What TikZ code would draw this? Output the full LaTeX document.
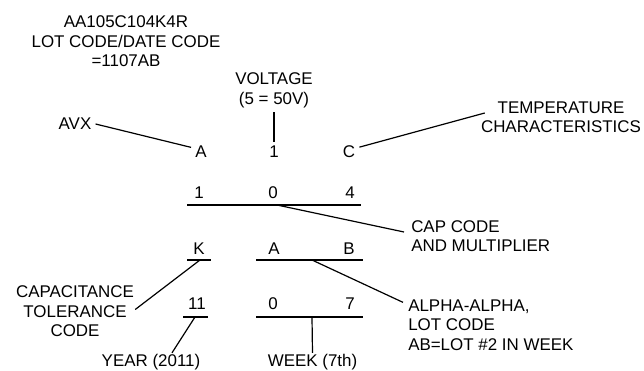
\documentclass[tikz,border=0pt]{standalone}
\usepackage{fontspec}
\setmainfont{Liberation Sans}
\usetikzlibrary{calc}
\tikzset{
  lbl/.style={font=\fontsize{12.7}{14.6}\selectfont, align=center, inner sep=3pt},
  lblleft/.style={lbl, align=left, anchor=west},
  digit/.style={font=\fontsize{12.7}{14.6}\selectfont, inner sep=3pt},
  lead/.style={line width=0.9pt},
  uline/.style={line width=0.9pt},
}
\begin{document}
\begin{tikzpicture}[x=0.75pt, y=-0.75pt]
  \useasboundingbox (0,0) rectangle (644,371);
  \node[lbl] (hdr)   at (126,41.5) {AA105C104K4R\\LOT CODE/DATE CODE\\=1107AB};
  \node[lbl] (volt)  at (274,90.5) {VOLTAGE\\(5 = 50V)};
  \node[lbl] (avx)   at (75,124)   {AVX};
  \node[lbl] (temp)  at (561,117)  {TEMPERATURE\\CHARACTERISTICS};
  \node[lblleft] (capcode) at (407,236) {CAP CODE\\AND MULTIPLIER};
  \node[lblleft] (alpha)   at (404,325) {ALPHA-ALPHA,\\LOT CODE\\AB=LOT \#2 IN WEEK};
  \node[lbl] (captol) at (75,311.5) {CAPACITANCE\\TOLERANCE\\CODE};
  \node[lbl] (year)  at (151,362)  {YEAR (2011)};
  \node[lbl] (week)  at (312.5,362) {WEEK (7th)};

  \node[digit] (a1) at (201,152) {A};
  \node[digit] (v1) at (274,152) {1};
  \node[digit] (c1) at (349,152) {C};
  \node[digit] (d1) at (199,193) {1};
  \node[digit] (d0) at (273,193) {0};
  \node[digit] (d4) at (350,193) {4};
  \node[digit] (k)  at (199,249) {K};
  \node[digit] (la) at (274,249) {A};
  \node[digit] (lb) at (349,249) {B};
  \node[digit] (y11) at (197,304) {11};
  \node[digit] (w0) at (273,304) {0};
  \node[digit] (w7) at (350,304) {7};

  \coordinate (u104w) at (187,205);
  \coordinate (u104e) at (361,205);
  \coordinate (ukw)   at (187,260);
  \coordinate (uke)   at (211,260);
  \coordinate (uabw)  at (256,260);
  \coordinate (uabe)  at (363,260);
  \coordinate (u11w)  at (183,317);
  \coordinate (u11e)  at (208,317);
  \coordinate (u07w)  at (256,317);
  \coordinate (u07e)  at (363,317);
  \coordinate (tcap)  at (277,205);
  \coordinate (ttol)  at (200,260);
  \coordinate (tlot)  at (312,260);
  \coordinate (tyear) at (195,317);
  \coordinate (tweek) at (312,317);

  \draw[uline] (u104w) -- (u104e);
  \draw[uline] (ukw) -- (uke);
  \draw[uline] (uabw) -- (uabe);
  \draw[uline] (u11w) -- (u11e);
  \draw[uline] (u07w) -- (u07e);

  \draw[lead] (avx.east) -- (a1.155);
  \draw[lead] (volt) -- (v1);
  \draw[lead] (c1.25) -- ([shift={(8,-4)}]temp.west);
  \draw[lead] (tcap) -- ([shift={(-3,-4)}]capcode.west);
  \draw[lead] ([shift={(-3,-2)}]captol.east) -- (ttol);
  \draw[lead] (tlot) -- ([shift={(-1,7)}]alpha.north west);
  \draw[lead] (tyear) -- ([shift={(21,3)}]year.north);
  \draw[lead] (tweek) -- ([shift={(0,3)}]week.north);
\end{tikzpicture}
\end{document}
